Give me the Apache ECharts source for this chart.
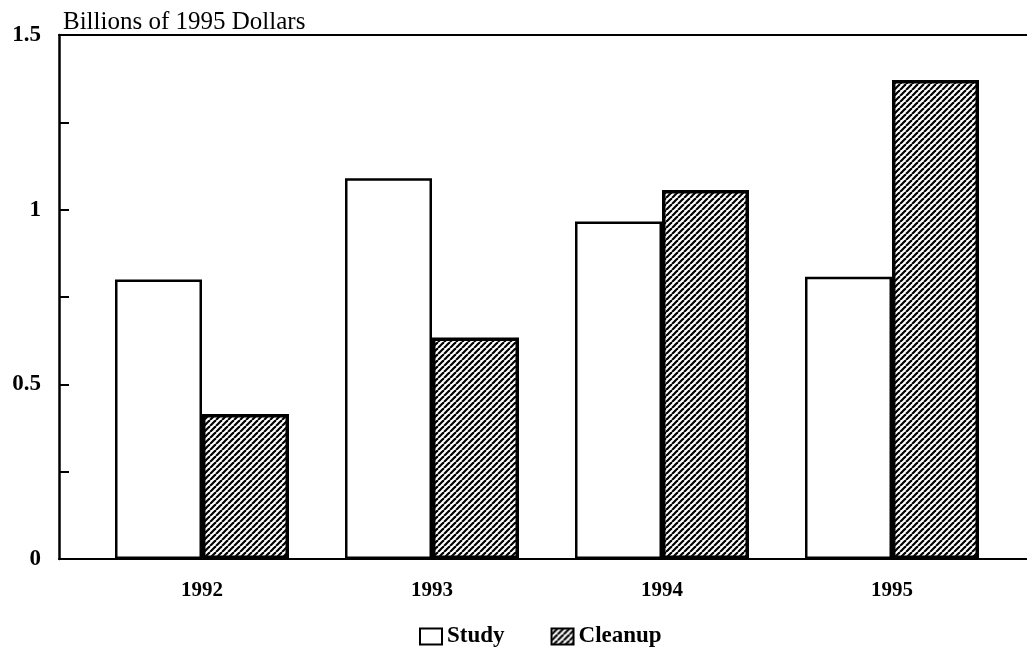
<!DOCTYPE html>
<html lang="en">
<head>
  <meta charset="UTF-8">
  <title>echart</title>
  <style>
    html, body, #eChart {
      margin: 0;
      padding: 0;
      width: 100%;
      height: 100%;
      background: #fff;
    }
  </style>
</head>
<body>
<div id="eChart"></div>

<script src="https://cdn.jsdelivr.net/npm/echarts@6/dist/echarts.min.js"></script>
<script>
  var years = ['1992', '1993', '1994', '1995'];
  var study = [0.80, 1.09, 0.966, 0.808];
  var cleanup = [0.415, 0.634, 1.056, 1.371];
  var yLabels = ['0', '0.5', '1', '1.5'];

  var FONT = 'Liberation Serif';

  // hatch pattern for the cleanup bars
  function hatch() {
    var s = 6;
    var c = document.createElement('canvas');
    c.width = s;
    c.height = s;
    var ctx = c.getContext('2d');
    ctx.fillStyle = '#fff';
    ctx.fillRect(0, 0, s, s);
    ctx.strokeStyle = '#000';
    ctx.lineWidth = 2.2;
    [-s, 0, s].forEach(function (k) {
      ctx.beginPath();
      ctx.moveTo(k, s);
      ctx.lineTo(k + s, 0);
      ctx.stroke();
    });
    return c;
  }

  window.onload = function () {
    var myChart = echarts.init(document.getElementById('eChart'));

    var option = {
      animation: false,
      backgroundColor: '#fff',
      title: {
        text: 'Billions of 1995 Dollars',
        left: 58,
        top: 5,
        textStyle: {fontFamily: FONT, fontSize: 25, fontWeight: 'normal', color: '#000'}
      },
      legend: {
        left: 414,
        top: 620,
        icon: 'rect',
        itemWidth: 22,
        itemHeight: 16,
        itemGap: 46,
        textStyle: {fontFamily: FONT, fontSize: 23, fontWeight: 'bold', color: '#000'},
        data: ['Study', 'Cleanup']
      },
      grid: [
        {left: 59, right: 0, top: 35, bottom: 95},
        {left: 87, right: 20, top: 35, bottom: 95}
      ],
      xAxis: [
        {
          type: 'value', gridIndex: 0, min: 0, max: 1, position: 'bottom',
          axisLine: {show: true, lineStyle: {color: '#000', width: 2}},
          axisTick: {show: false}, axisLabel: {show: false}, splitLine: {show: false}
        },
        {
          type: 'value', gridIndex: 0, min: 0, max: 1, position: 'top',
          axisLine: {show: true, lineStyle: {color: '#000', width: 2}},
          axisTick: {show: false}, axisLabel: {show: false}, splitLine: {show: false}
        },
        {
          type: 'category', gridIndex: 1, data: years,
          axisLine: {show: false}, axisTick: {show: false},
          axisLabel: {margin: 21, fontFamily: FONT, fontSize: 21, fontWeight: 'bold', color: '#000'}
        }
      ],
      yAxis: [
        {
          type: 'value', gridIndex: 0, min: 0, max: 1.5, interval: 0.25,
          axisLine: {show: true, lineStyle: {color: '#000', width: 2.5}},
          axisTick: {show: true, inside: true, length: 10, lineStyle: {color: '#000', width: 2}},
          axisLabel: {
            margin: 18, fontFamily: FONT, fontSize: 23, fontWeight: 'bold', color: '#000',
            formatter: function (v) {
              var t = String(v);
              return yLabels.indexOf(t) >= 0 ? t : '';
            }
          },
          splitLine: {show: false}
        },
        {
          type: 'value', gridIndex: 1, min: 0, max: 1.5,
          axisLine: {show: false}, axisTick: {show: false},
          axisLabel: {show: false}, splitLine: {show: false}
        }
      ],
      series: [
        {
          name: 'Study', type: 'bar', xAxisIndex: 2, yAxisIndex: 1,
          barWidth: 87, barGap: '0%',
          itemStyle: {color: '#fff', borderColor: '#000', borderWidth: 2.5},
          data: study
        },
        {
          name: 'Cleanup', type: 'bar', xAxisIndex: 2, yAxisIndex: 1,
          barWidth: 87,
          itemStyle: {color: {image: hatch(), repeat: 'repeat'}, borderColor: '#000', borderWidth: 3.5},
          data: cleanup
        }
      ]
    };

    myChart.setOption(option);
  };
</script>
</body>
</html>
